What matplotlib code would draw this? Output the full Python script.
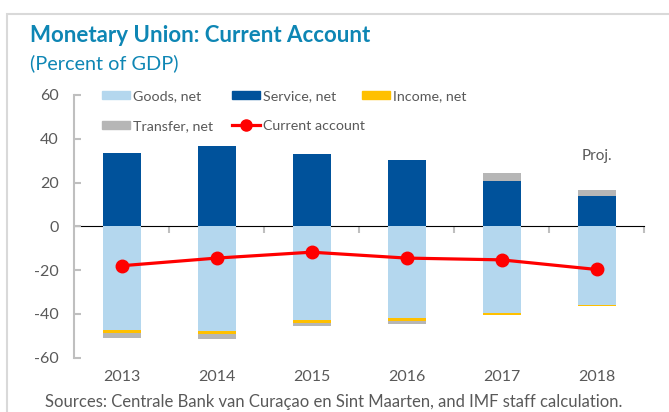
import matplotlib
matplotlib.use('Agg')
import matplotlib.pyplot as plt
import numpy as np
from matplotlib.patches import Rectangle, Patch
from matplotlib.lines import Line2D

plt.rcParams['font.family'] = ['Lato', 'DejaVu Sans']
plt.rcParams['axes.unicode_minus'] = False

# Data (percent of GDP)
years = ['2013', '2014', '2015', '2016', '2017', '2018']
goods = [-47.4, -47.8, -42.6, -41.7, -39.7, -35.8]
service = [33.3, 36.6, 33.2, 30.2, 20.7, 13.9]
income = [-1.5, -1.6, -1.4, -1.5, -0.6, -0.5]
transfer = [-2.3, -2.0, -1.7, -1.5, 3.5, 2.5]
current = [-18.0, -14.5, -11.8, -14.5, -15.3, -19.7]

c_goods = '#B4D7EE'
c_service = '#00529B'
c_income = '#FFC000'
c_transfer = '#B6B6B6'
c_ca = '#FF0000'
c_axis = '#BFBFBF'
c_text = '#595959'
c_title = '#0E86B4'

W, H = 669, 412
fig = plt.figure(figsize=(W / 100, H / 100), dpi=100)

# outer frame
fig.add_artist(Rectangle((7 / W, -0.5), 2, 1.5 - 14 / H, transform=fig.transFigure,
                         fill=False, edgecolor='#D9D9D9', linewidth=1.5, clip_on=False))

ax = fig.add_axes([74 / W, (H - 357.7) / H, (644 - 74) / W, (357.7 - 95) / H])

x = np.arange(len(years))
width = 0.4
pos_bottom = np.zeros(len(years))
neg_bottom = np.zeros(len(years))
for vals, col in [(goods, c_goods), (service, c_service), (income, c_income), (transfer, c_transfer)]:
    v = np.array(vals)
    pos = np.where(v > 0, v, 0)
    neg = np.where(v < 0, v, 0)
    ax.bar(x, pos, width, bottom=pos_bottom, color=col, linewidth=0, zorder=2)
    ax.bar(x, neg, width, bottom=neg_bottom, color=col, linewidth=0, zorder=2)
    pos_bottom += pos
    neg_bottom += neg

ax.plot(x, current, color=c_ca, linewidth=2.3, marker='o', markersize=9, zorder=4)

ax.set_xlim(-0.5, len(years) - 0.5)
ax.set_ylim(-60, 60)
ax.set_yticks(range(-60, 61, 20))
ax.set_xticks(x)
ax.set_xticklabels(years)

for s in ['top', 'right', 'bottom']:
    ax.spines[s].set_visible(False)
ax.spines['left'].set_color(c_axis)
ax.spines['left'].set_linewidth(1.5)
ax.tick_params(axis='y', direction='in', length=5, width=1.5, color=c_axis,
               labelcolor=c_text, labelsize=11.5, pad=11)
ax.tick_params(axis='x', length=0, labelcolor=c_text, labelsize=11.5, pad=9)

# zero axis with category separator ticks
sec = ax.secondary_xaxis(0.5)
sec.set_xticks(np.arange(0.5, len(years), 1.0))
sec.set_xticklabels([])
sec.spines['bottom'].set_color(c_axis)
sec.spines['bottom'].set_linewidth(1.5)
sec.tick_params(direction='in', length=5, width=1.5, color=c_axis)

ax.text(x[-1], 32, 'Proj.', ha='center', va='center', color=c_text, fontsize=11)

# legend laid out in three fixed columns
lkw = dict(loc='upper left', frameon=False, fontsize=10.3, handlelength=1.95,
           handleheight=0.5, handletextpad=0.2, labelspacing=1.25,
           borderpad=0, borderaxespad=0, labelcolor=c_text)
ly = (H - 90) / H
leg1 = fig.legend([Patch(color=c_goods), Patch(color=c_transfer)],
                  ['Goods, net', 'Transfer, net'],
                  bbox_to_anchor=(102 / W, ly), **lkw)
leg2 = fig.legend([Patch(color=c_service),
                   Line2D([], [], color=c_ca, linewidth=2.3, marker='o', markersize=8)],
                  ['Service, net', 'Current account'],
                  bbox_to_anchor=(232 / W, ly), **lkw)
leg3 = fig.legend([Patch(color=c_income)], ['Income, net'],
                  bbox_to_anchor=(362 / W, ly), **lkw)

fig.text(30 / W, (H - 36) / H, 'Monetary Union: Current Account', color=c_title,
         fontsize=16, fontweight='bold', va='center', ha='left')
fig.text(30 / W, (H - 63) / H, '(Percent of GDP)', color=c_title,
         fontsize=14.3, va='center', ha='left')
fig.text(334 / W, (H - 402) / H,
         'Sources: Centrale Bank van Curaçao en Sint Maarten, and IMF staff calculation.',
         color=c_text, fontsize=12, va='center', ha='center')

fig.savefig('out.png', dpi=100)
